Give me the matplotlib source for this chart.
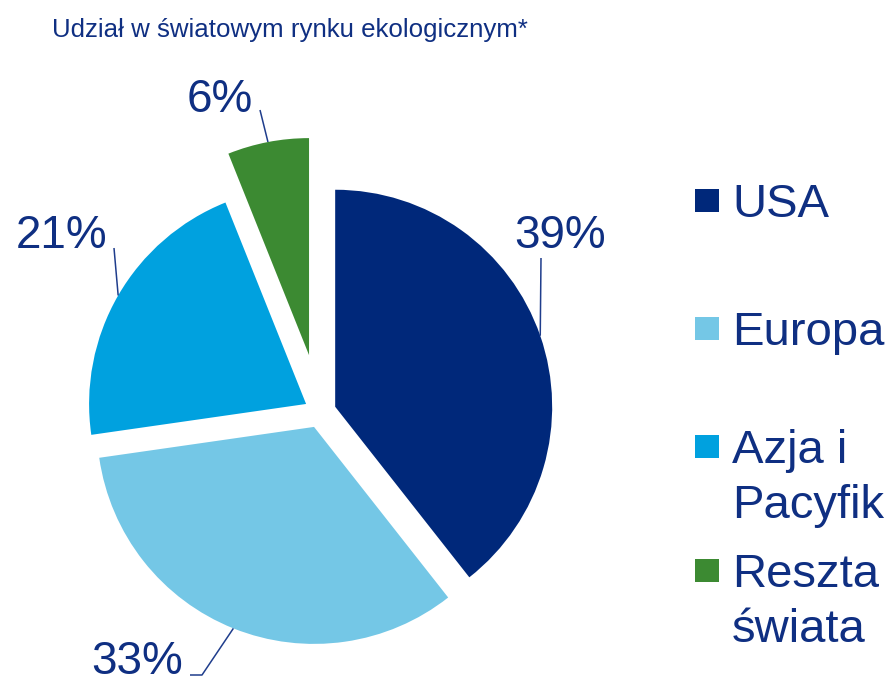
import numpy as np
import matplotlib
matplotlib.use("Agg")
import matplotlib.pyplot as plt
from matplotlib.patches import Rectangle

plt.rcParams['font.family'] = ['Liberation Sans', 'DejaVu Sans']

# ---- data ----
categories = ["USA", "Europa", "Azja i\nPacyfik", "Reszta\nświata"]
shares = [39, 33, 21, 6]
pct_labels = ["39%", "33%", "21%", "6%"]
colors = ["#00287a", "#74c7e6", "#00a1df", "#3c8a32"]
title = "Udział w światowym rynku ekologicznym*"

TXT = "#0f2f82"
W, H = 888, 685
CX, CY, R = 320, 412, 217  # pie centre / radius in pixels

fig = plt.figure(figsize=(W / 100, H / 100), dpi=100)
ax = fig.add_axes([0, 0, 1, 1])


def px(x, y):
    return (x - CX) / R, (CY - y) / R


wedges, _ = ax.pie(shares, colors=colors, startangle=90, counterclock=False,
                   explode=[0.074, 0.074, 0.074, 0.267], radius=1,
                   wedgeprops=dict(linewidth=0))
ax.set_xlim((0 - CX) / R, (W - CX) / R)
ax.set_ylim((CY - H) / R, CY / R)
ax.set_aspect('auto')
ax.axis('off')

# label layout: text anchor (centre x, baseline y) and leader path (pixels)
label_pos = [(560, 248), (137, 674), (62, 248), (220, 112)]
leader_via = [[(541, 258)], [(202, 675), (190, 675)], [(114, 248)], [(260, 110)]]

for w, lab, pos, via in zip(wedges, pct_labels, label_pos, leader_via):
    ang = np.deg2rad((w.theta1 + w.theta2) / 2)
    ex = w.center[0] + w.r * np.cos(ang)
    ey = w.center[1] + w.r * np.sin(ang)
    pts = [(ex, ey)] + [px(*p) for p in via]
    xs, ys = zip(*pts)
    ax.plot(xs, ys, color="#1f3d8c", lw=1.1, solid_capstyle='butt')
    tx, ty = px(*pos)
    ax.text(tx, ty, lab, ha='center', va='baseline', fontsize=33, color=TXT)

# title
fig.text(290 / W, 1 - 37 / H, title, ha='center', va='baseline',
         fontsize=18.6, color=TXT)

# legend (manual)
first_baselines = [217, 345, 463, 587]
for cat, col, base in zip(categories, colors, first_baselines):
    cy = base - 17
    fig.patches.append(Rectangle((695 / W, 1 - (cy + 11.5) / H), 24 / W, 23 / H,
                                 transform=fig.transFigure, facecolor=col,
                                 edgecolor='none'))
    for i, line in enumerate(cat.split("\n")):
        fig.text(732 / W, 1 - (base + i * 55) / H, line, ha='left',
                 va='baseline', fontsize=34, color=TXT)

fig.savefig("out.png", dpi=100, facecolor="white")
